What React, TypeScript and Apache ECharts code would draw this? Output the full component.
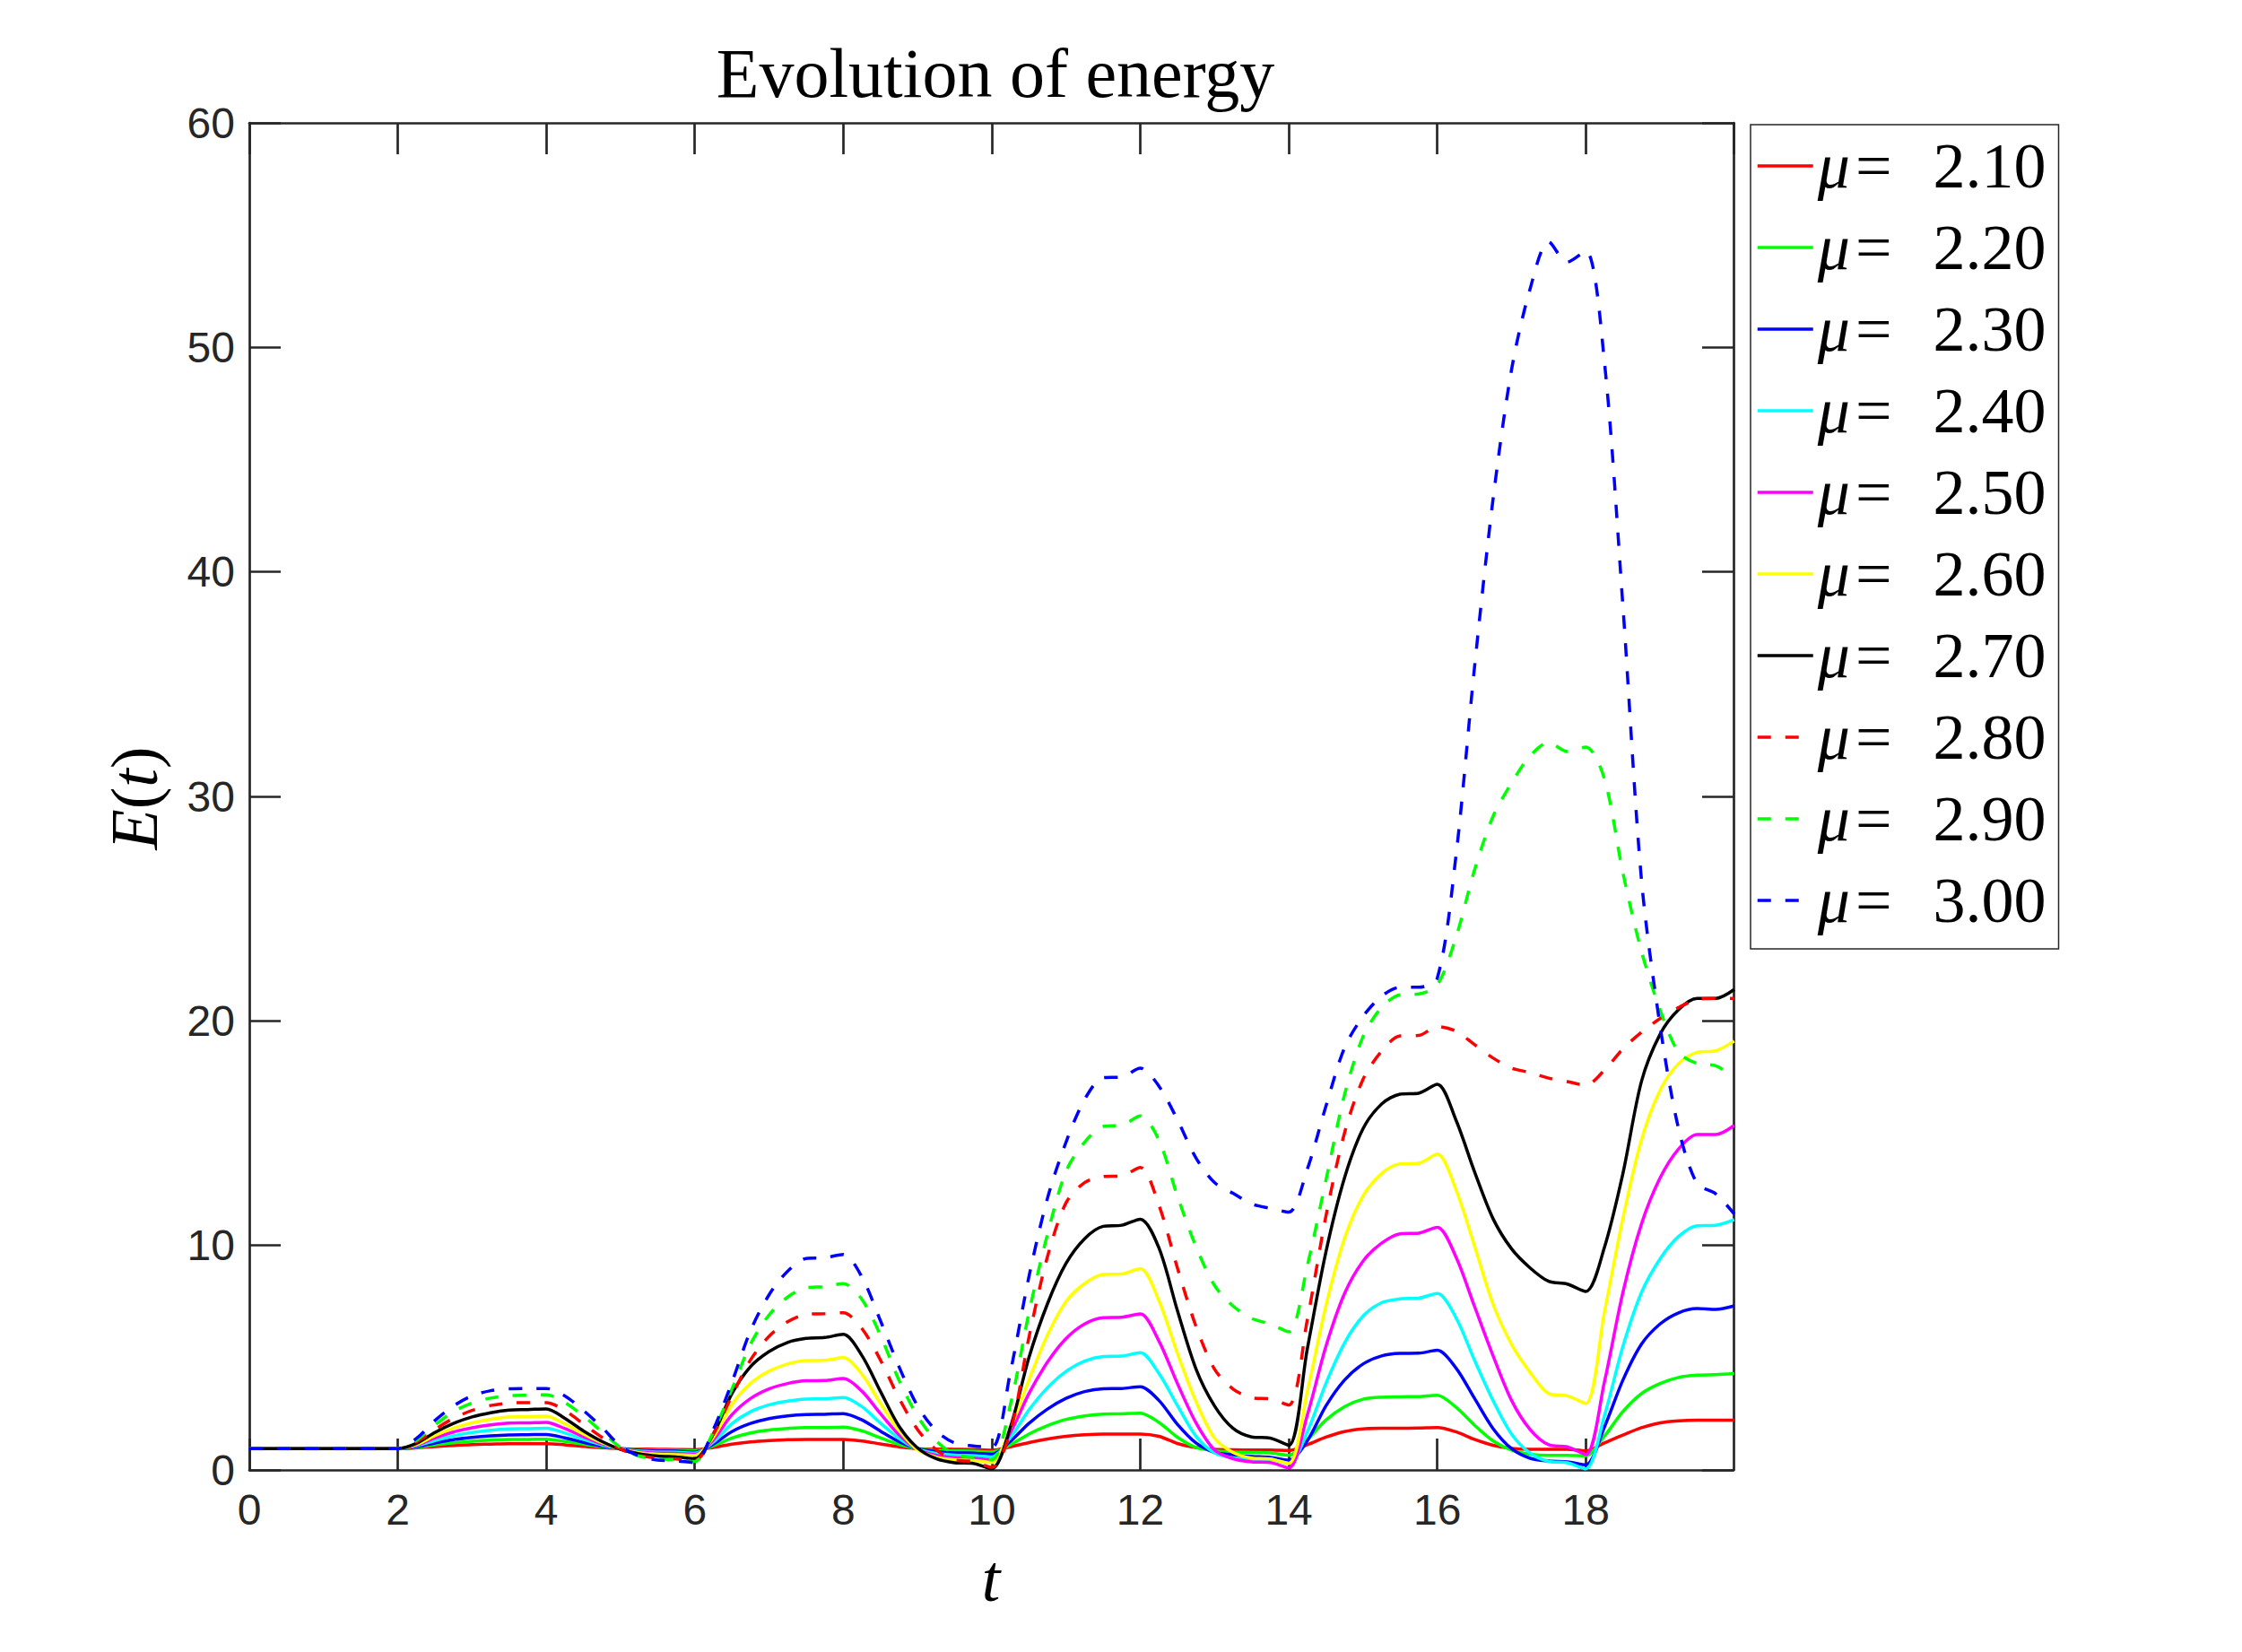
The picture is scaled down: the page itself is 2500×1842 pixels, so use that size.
import React, { useEffect, useRef } from "react";
import * as echarts from "echarts";

// time grid (step 0.25 from 0 to 20)
const T: number[] = Array.from({ length: 81 }, (_, i) => i * 0.25);

const MU_LABELS = ["2.10", "2.20", "2.30", "2.40", "2.50", "2.60", "2.70", "2.80", "2.90", "3.00"];
const COLORS = ["#ff0000", "#00ff00", "#0000ff", "#00ffff", "#ff00ff", "#ffff00", "#000000", "#ff0000", "#00ff00", "#0000ff"];
const DASHED = [false, false, false, false, false, false, false, true, true, true];

const X_TICK_LABELS = ["0", "2", "4", "6", "8", "10", "12", "14", "16", "18"];
const Y_TICK_LABELS = ["0", "10", "20", "30", "40", "50", "60"];

const E210 = [0.95, 0.95, 0.95, 0.95, 0.95, 0.95, 0.95, 0.95, 0.95,
  0.98, 1.04, 1.09, 1.13, 1.15, 1.17, 1.17, 1.17,
  1.12, 1.05, 0.99, 0.95, 0.93, 0.92, 0.91, 0.9,
  1.0, 1.15, 1.25, 1.31, 1.35, 1.36, 1.36, 1.36,
  1.29, 1.16, 1.03, 0.95, 0.93, 0.92, 0.91, 0.88,
  1.03, 1.22, 1.38, 1.5, 1.57, 1.6, 1.6, 1.6,
  1.5, 1.18, 1.0, 0.92, 0.9, 0.89, 0.89, 0.87,
  1.12, 1.46, 1.71, 1.83, 1.86, 1.86, 1.87, 1.89,
  1.7, 1.36, 1.1, 0.96, 0.92, 0.92, 0.92, 0.85,
  1.2, 1.55, 1.88, 2.1, 2.19, 2.22, 2.22, 2.22];

const E220 = [0.95, 0.95, 0.95, 0.95, 0.95, 0.95, 0.95, 0.95, 0.95,
  1.0, 1.12, 1.21, 1.28, 1.33, 1.36, 1.36, 1.37,
  1.27, 1.15, 1.03, 0.95, 0.9, 0.88, 0.87, 0.85,
  1.07, 1.42, 1.65, 1.78, 1.85, 1.89, 1.89, 1.91,
  1.74, 1.43, 1.14, 0.95, 0.88, 0.85, 0.84, 0.8,
  1.12, 1.6, 1.97, 2.25, 2.41, 2.49, 2.5, 2.53,
  2.12, 1.46, 1.0, 0.86, 0.8, 0.78, 0.76, 0.65,
  1.35, 2.22, 2.82, 3.15, 3.24, 3.26, 3.27, 3.33,
  2.8, 2.0, 1.3, 0.88, 0.7, 0.65, 0.65, 0.63,
  1.5, 2.6, 3.4, 3.85, 4.12, 4.22, 4.24, 4.29];

const E230 = [0.95, 0.95, 0.95, 0.95, 0.95, 0.95, 0.95, 0.95, 0.95,
  1.03, 1.2, 1.35, 1.45, 1.52, 1.56, 1.57, 1.58,
  1.43, 1.23, 1.06, 0.95, 0.88, 0.85, 0.84, 0.8,
  1.15, 1.71, 2.07, 2.29, 2.41, 2.47, 2.48, 2.51,
  2.23, 1.73, 1.26, 0.95, 0.82, 0.76, 0.75, 0.7,
  1.27, 2.07, 2.71, 3.19, 3.49, 3.62, 3.63, 3.71,
  3.1, 2.03, 1.2, 0.78, 0.67, 0.6, 0.56, 0.43,
  1.3, 2.85, 4.0, 4.72, 5.08, 5.19, 5.2, 5.33,
  4.55, 3.2, 1.85, 0.95, 0.52, 0.4, 0.36, 0.23,
  1.9, 4.0, 5.6, 6.5, 7.0, 7.19, 7.15, 7.31];

const E240 = [0.95, 0.95, 0.95, 0.95, 0.95, 0.95, 0.95, 0.95, 0.95,
  1.07, 1.31, 1.52, 1.67, 1.77, 1.83, 1.84, 1.86,
  1.64, 1.36, 1.11, 0.94, 0.84, 0.8, 0.79, 0.75,
  1.24, 2.06, 2.59, 2.9, 3.07, 3.16, 3.17, 3.23,
  2.82, 2.09, 1.41, 0.93, 0.74, 0.66, 0.64, 0.58,
  1.44, 2.67, 3.66, 4.39, 4.85, 5.05, 5.07, 5.22,
  4.3, 2.87, 1.5, 0.76, 0.54, 0.48, 0.47, 0.29,
  1.7, 3.85, 5.65, 6.85, 7.45, 7.62, 7.65, 7.86,
  6.8, 4.9, 3.1, 1.6, 0.75, 0.38, 0.32, 0.05,
  2.4, 5.5, 7.9, 9.4, 10.4, 10.88, 10.9, 11.15];

const E250 = [0.95, 0.95, 0.95, 0.95, 0.95, 0.95, 0.95, 0.95, 0.95,
  1.1, 1.42, 1.69, 1.88, 2.01, 2.09, 2.1, 2.12,
  1.84, 1.48, 1.16, 0.94, 0.8, 0.75, 0.74, 0.7,
  1.34, 2.46, 3.18, 3.61, 3.85, 3.97, 3.98, 4.07,
  3.51, 2.51, 1.57, 0.92, 0.65, 0.55, 0.53, 0.45,
  1.65, 3.4, 4.8, 5.85, 6.5, 6.78, 6.8, 6.95,
  5.75, 3.85, 2.1, 0.89, 0.5, 0.36, 0.33, 0.09,
  2.45, 5.5, 7.85, 9.3, 10.1, 10.52, 10.55, 10.81,
  9.5, 7.3, 5.1, 3.1, 1.8, 1.12, 1.03, 0.69,
  3.9, 7.9, 10.95, 13.0, 14.3, 14.94, 14.94, 15.35];

const E260 = [0.95, 0.95, 0.95, 0.95, 0.95, 0.95, 0.95, 0.95, 0.95,
  1.13, 1.53, 1.86, 2.1, 2.26, 2.36, 2.37, 2.4,
  2.05, 1.6, 1.21, 0.93, 0.77, 0.7, 0.68, 0.65,
  1.46, 2.91, 3.85, 4.4, 4.72, 4.87, 4.88, 5.0,
  4.27, 2.97, 1.76, 0.9, 0.57, 0.45, 0.43, 0.33,
  1.88, 4.0, 6.0, 7.5, 8.3, 8.71, 8.73, 8.97,
  7.55, 5.2, 3.05, 1.42, 0.78, 0.53, 0.49, 0.29,
  3.5, 7.3, 10.3, 12.2, 13.2, 13.63, 13.66, 14.07,
  12.5, 10.0, 7.4, 5.6, 4.35, 3.4, 3.3, 2.96,
  7.0, 11.2, 14.7, 16.9, 18.1, 18.6, 18.67, 19.1];

const E270 = [0.95, 0.95, 0.95, 0.95, 0.95, 0.95, 0.95, 0.95, 0.95,
  1.18, 1.67, 2.07, 2.36, 2.55, 2.67, 2.69, 2.72,
  2.3, 1.74, 1.27, 0.92, 0.72, 0.62, 0.58, 0.5,
  1.6, 3.4, 4.6, 5.27, 5.68, 5.86, 5.9, 6.04,
  5.1, 3.5, 1.95, 0.98, 0.5, 0.32, 0.29, 0.05,
  1.9, 5.0, 7.4, 9.2, 10.3, 10.85, 10.9, 11.17,
  9.9, 7.1, 4.5, 2.85, 1.85, 1.47, 1.42, 1.1,
  5.4, 9.7, 13.0, 15.2, 16.3, 16.74, 16.78, 17.18,
  15.6, 13.3, 11.2, 9.85, 9.0, 8.4, 8.28, 7.95,
  9.9, 13.2, 17.3, 19.4, 20.5, 21.0, 21.0, 21.4];

const E280 = [0.95, 0.95, 0.95, 0.95, 0.95, 0.95, 0.95, 0.95, 0.95,
  1.25, 1.8, 2.3, 2.65, 2.87, 2.98, 3.0, 3.0,
  2.65, 2.05, 1.45, 0.93, 0.65, 0.52, 0.49, 0.42,
  1.6, 3.3, 4.9, 5.95, 6.6, 6.93, 6.96, 7.0,
  6.3, 4.9, 3.2, 1.8, 0.9, 0.45, 0.37, 0.12,
  1.7, 5.9, 9.5, 11.9, 12.8, 13.07, 13.1, 13.47,
  11.8, 9.0, 6.4, 4.49, 3.6, 3.22, 3.16, 2.89,
  6.7, 11.3, 15.0, 17.4, 18.65, 19.33, 19.35, 19.75,
  19.55, 18.95, 18.35, 17.9, 17.7, 17.45, 17.3, 17.14,
  17.8, 18.75, 19.5, 20.1, 20.6, 20.95, 21.0, 21.0];

const E290 = [0.95, 0.95, 0.95, 0.95, 0.95, 0.95, 0.95, 0.95, 0.95,
  1.32, 2.0, 2.6, 2.98, 3.2, 3.31, 3.33, 3.35,
  3.0, 2.4, 1.7, 1.0, 0.62, 0.48, 0.45, 0.38,
  1.7, 3.6, 5.6, 6.9, 7.7, 8.12, 8.16, 8.3,
  7.6, 6.0, 4.0, 2.4, 1.3, 0.7, 0.55, 0.45,
  2.9, 7.0, 10.5, 13.3, 14.6, 15.3, 15.35, 15.77,
  14.7, 12.2, 9.95, 8.22, 7.3, 6.75, 6.5, 6.15,
  9.1, 12.9, 16.7, 19.3, 20.6, 21.16, 21.2, 21.6,
  23.7, 26.7, 29.1, 30.6, 31.8, 32.4, 32.0, 32.2,
  30.8, 26.6, 23.1, 20.5, 18.6, 18.1, 18.0, 17.5];

const E300 = [0.95, 0.95, 0.95, 0.95, 0.95, 0.95, 0.95, 0.95, 0.95,
  1.4, 2.2, 2.85, 3.3, 3.53, 3.62, 3.63, 3.63,
  3.3, 2.65, 1.9, 1.05, 0.62, 0.44, 0.4, 0.33,
  1.8, 3.9, 6.2, 7.8, 8.85, 9.42, 9.45, 9.6,
  8.6, 6.65, 4.6, 2.85, 1.75, 1.2, 1.07, 1.0,
  4.35, 8.6, 12.1, 14.6, 16.5, 17.47, 17.5, 17.9,
  17.1, 15.6, 13.9, 12.8, 12.32, 11.85, 11.65, 11.48,
  13.4, 16.2, 18.8, 20.2, 21.1, 21.5, 21.5, 21.9,
  27.3, 35.7, 43.2, 49.0, 52.6, 54.7, 53.8, 54.3,
  49.4, 38.5, 26.3, 19.8, 15.2, 12.75, 12.3, 11.4];

const SERIES_VALUES = [E210, E220, E230, E240, E250, E260, E270, E280, E290, E300];
const NAMES = MU_LABELS.map((m) => `μ= ${m}`);

const AXIS_COLOR = "#262626";
const SERIF = "'Liberation Serif', 'DejaVu Serif', serif";
const SANS = "'Liberation Sans', Arial, Helvetica, sans-serif";

function buildOption(): any {
  const axisCommonX = {
    type: "value",
    min: 0,
    max: 19.99,
    interval: 2,
    axisLine: { show: true, onZero: false, lineStyle: { color: AXIS_COLOR, width: 2.7 } },
    axisTick: { show: true, inside: true, length: 35, lineStyle: { color: AXIS_COLOR, width: 2.7 } },
    splitLine: { show: false },
  };
  const axisCommonY = {
    type: "value",
    min: 0,
    max: 60,
    interval: 10,
    axisLine: { show: true, onZero: false, lineStyle: { color: AXIS_COLOR, width: 2.7 } },
    axisTick: { show: true, inside: true, length: 35, lineStyle: { color: AXIS_COLOR, width: 2.7 } },
    splitLine: { show: false },
  };
  return {
    animation: false,
    backgroundColor: "#ffffff",
    title: {
      text: "Evolution of energy",
      left: 1105,
      top: 37,
      textAlign: "center",
      textStyle: { fontFamily: SERIF, fontSize: 78, fontWeight: "normal", color: "#000000", lineHeight: 78 },
    },
    grid: { left: 278, top: 137, width: 1655, height: 1502, containLabel: false },
    legend: {
      orient: "vertical",
      left: 1952,
      top: 139,
      data: NAMES,
      selectedMode: false,
      itemWidth: 62,
      itemHeight: 20,
      itemGap: 11,
      padding: [6, 14, 14, 6],
      backgroundColor: "#ffffff",
      borderColor: AXIS_COLOR,
      borderWidth: 1.5,
      lineStyle: { width: 3.5 },
      itemStyle: { opacity: 0, borderWidth: 0 },
      formatter: (name: string) => `{i|μ}{n|= }{v|${name.replace("μ= ", "")}}`,
      textStyle: {
        color: "#000000",
        fontFamily: SERIF,
        fontSize: 72,
        lineHeight: 80,
        rich: {
          i: { fontFamily: SERIF, fontStyle: "italic", fontSize: 72, lineHeight: 80, color: "#000000" },
          n: { fontFamily: SERIF, fontSize: 72, lineHeight: 80, color: "#000000", padding: [0, 0, 0, 6] },
          v: { fontFamily: SERIF, fontSize: 72, lineHeight: 80, color: "#000000", padding: [0, 0, 0, 28] },
        },
      },
    },
    xAxis: [
      {
        ...axisCommonX,
        position: "bottom",
        axisLabel: {
          show: true,
          showMaxLabel: false,
          margin: 20,
          fontFamily: SANS,
          fontSize: 48,
          color: AXIS_COLOR,
          formatter: (v: number) => {
            const idx = Math.round(v / 2);
            return Math.abs(v - idx * 2) < 1e-6 && idx < X_TICK_LABELS.length ? X_TICK_LABELS[idx] : "";
          },
        },
      },
      { ...axisCommonX, position: "top", axisLabel: { show: false } },
    ],
    yAxis: [
      {
        ...axisCommonY,
        position: "left",
        axisLabel: {
          show: true,
          margin: 16,
          fontFamily: SANS,
          fontSize: 48,
          color: AXIS_COLOR,
          formatter: (v: number) => Y_TICK_LABELS[Math.round(v / 10)] ?? "",
        },
      },
      { ...axisCommonY, position: "right", axisLabel: { show: false } },
    ],
    series: SERIES_VALUES.map((vals, i) => ({
      name: NAMES[i],
      type: "line",
      xAxisIndex: 0,
      yAxisIndex: 0,
      data: T.map((t, j) => [t, vals[j]]),
      symbol: "none",
      showSymbol: false,
      smooth: 0.3,
      clip: true,
      silent: true,
      lineStyle: { color: COLORS[i], width: 3.5, type: DASHED[i] ? [15, 16] : "solid" },
      itemStyle: { color: COLORS[i] },
      emphasis: { disabled: true },
    })),
    graphic: [
      {
        type: "text",
        x: 150,
        y: 890,
        rotation: Math.PI / 2,
        silent: true,
        style: {
          text: "{i|E}{n|(}{i|t}{n|)}",
          align: "center",
          verticalAlign: "middle",
          fill: "#000000",
          rich: {
            i: { fontFamily: SERIF, fontStyle: "italic", fontSize: 74, fill: "#000000" },
            n: { fontFamily: SERIF, fontSize: 74, fill: "#000000" },
          },
        },
      },
      {
        type: "text",
        x: 1105,
        y: 1760,
        silent: true,
        style: {
          text: "t",
          align: "center",
          verticalAlign: "middle",
          fill: "#000000",
          fontFamily: SERIF,
          fontStyle: "italic",
          fontSize: 74,
        },
      },
    ],
  };
}

export default function App() {
  const ref = useRef<HTMLDivElement>(null);
  useEffect(() => {
    if (!ref.current) return;
    const chart = echarts.init(ref.current, undefined, { renderer: "svg" });
    chart.setOption(buildOption());
    return () => {
      chart.dispose();
    };
  }, []);
  return (
    <div
      ref={ref}
      style={{ position: "absolute", left: 0, top: 0, width: 2500, height: 1842, background: "#ffffff" }}
    />
  );
}
